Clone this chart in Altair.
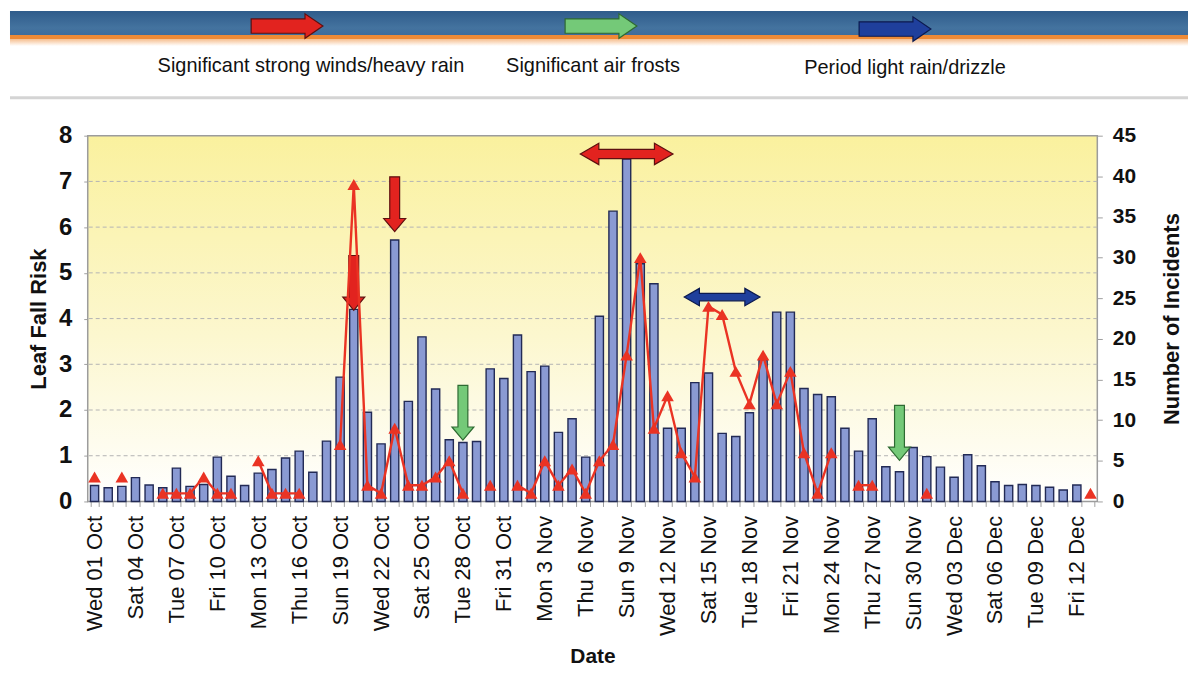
import altair as alt
import pandas as pd

# ---------------- data ----------------
leaf_risk = [0.35, 0.30, 0.33, 0.52, 0.36, 0.30, 0.73, 0.33, 0.37, 0.97,
             0.55, 0.35, 0.62, 0.70, 0.95, 1.10, 0.64, 1.32, 2.72, 4.20,
             1.95, 1.26, 5.72, 2.19, 3.60, 2.46, 1.35, 1.29, 1.31, 2.90,
             2.69, 3.64, 2.84, 2.96, 1.51, 1.81, 0.97, 4.05, 6.35, 7.49,
             5.20, 4.76, 1.60, 1.60, 2.60, 2.81, 1.49, 1.42, 1.94, 3.10,
             4.14, 4.14, 2.47, 2.34, 2.29, 1.60, 1.10, 1.81, 0.76, 0.65,
             1.18, 0.98, 0.75, 0.53, 1.02, 0.78, 0.43, 0.35, 0.37, 0.35,
             0.31, 0.25, 0.36, None]

incidents = [3, None, 3, None, None, 1, 1, 1, 3, 1,
             1, None, 5, 1, 1, 1, None, None, 7, 39,
             2, 1, 9, 2, 2, 3, 5, 1, None, 2,
             None, 2, 1, 5, 2, 4, 1, 5, 7, 18,
             30, 9, 13, 6, 3, 24, 23, 16, 12, 18,
             12, 16, 6, 1, 6, None, 2, 2, None, None,
             None, 1, None, None, None, None, None, None, None, None,
             None, None, None, 1]

tick_labels = ["Wed 01 Oct", "Sat 04 Oct", "Tue 07 Oct", "Fri 10 Oct", "Mon 13 Oct",
               "Thu 16 Oct", "Sun 19 Oct", "Wed 22 Oct", "Sat 25 Oct", "Tue 28 Oct",
               "Fri 31 Oct", "Mon 3 Nov", "Thu 6 Nov", "Sun 9 Nov", "Wed 12 Nov",
               "Sat 15 Nov", "Tue 18 Nov", "Fri 21 Nov", "Mon 24 Nov", "Thu 27 Nov",
               "Sun 30 Nov", "Wed 03 Dec", "Sat 06 Dec", "Tue 09 Dec", "Fri 12 Dec"]

legend_labels = ["Significant strong winds/heavy rain", "Significant air frosts",
                 "Period light rain/drizzle"]
legend_fill = ["#E2231F", "#74C978", "#1F3F9C"]
legend_stroke = ["#5E1010", "#2E6A32", "#0C1A4F"]

# annotation arrows (day index, leaf-risk level, legend kind)
down_days = [19, 22, 27, 59]
down_levels = [4.78, 6.5, 1.94, 1.5]
down_kind = [0, 0, 1, 1]
span_days = [39, 46]
span_levels = [7.6, 4.47]
span_kind = [0, 2]
span_len = [93, 76]

# header layout (pixel units relative to the plot origin)
header_x = [-78, 1104]
band_y = [-125, -101]
stripe_y = [-101, -97]
fade_y = [-97, -90]
sep_y = -38
legend_arrow_x = [200, 515, 810]
legend_arrow_y = [-110, -110, -107]
legend_text_x = [224, 507, 820]
legend_text_y = [-70, -70, -68]

W, H = 1013, 367
FONT = "Liberation Sans"
RED = "#EA3323"

n = len(leaf_risk)
days = list(range(n))
df = pd.DataFrame({"day": days, "leaf": leaf_risk, "incidents": incidents})
bars_df = df[df["leaf"].notna()]
inc_df = df[df["incidents"].notna()].copy()
inc_df["seg"] = (inc_df["day"].diff() != 1).cumsum()

x_scale = alt.Scale(domain=days, paddingInner=0.4, paddingOuter=0.2)
y_leaf = alt.Scale(domain=[0, 8], nice=False)
y_inc = alt.Scale(domain=[0, 45], nice=False)

ticks_js = "[" + ",".join("'" + t + "'" for t in tick_labels) + "]"
x_axis = alt.Axis(title="Date", labelExpr="datum.value % 3 == 0 ? " + ticks_js + "[datum.value / 3] : ''",
                  labelAngle=270, labelAlign="right", labelBaseline="middle",
                  labelFont=FONT, labelFontSize=22, labelColor="#111111", labelPadding=9,
                  labelOverlap=False, tickBand="extent", tickSize=5, tickColor="#A0A0A0",
                  domain=False, grid=False, titleFont=FONT, titleFontSize=21,
                  titleFontWeight="bold", titleColor="#111111", titlePadding=10)
leaf_axis = alt.Axis(orient="left", title="Leaf Fall Risk", values=list(range(9)), grid=False,
                     domain=False, tickSize=4, tickColor="#A0A0A0", labelFont=FONT,
                     labelFontSize=24, labelFontWeight="bold", labelColor="#111111",
                     labelPadding=12, titleFont=FONT, titleFontSize=22, titleFontWeight="bold",
                     titleColor="#111111", titlePadding=8)
inc_axis = alt.Axis(orient="right", title="Number of Incidents", values=list(range(0, 46, 5)),
                    grid=False, domain=False, tickSize=5, tickColor="#A0A0A0", labelFont=FONT,
                    labelFontSize=21, labelFontWeight="bold", labelColor="#111111",
                    labelPadding=10, titleFont=FONT, titleFontSize=22, titleFontWeight="bold",
                    titleColor="#111111", titleAngle=270, titleBaseline="top", titlePadding=26)

plot_grad = alt.LinearGradient(gradient="linear", x1=0, x2=0, y1=0, y2=1, stops=[
    alt.GradientStop(color="#FAF19E", offset=0),
    alt.GradientStop(color="#FCF7CF", offset=0.55),
    alt.GradientStop(color="#FFFFFF", offset=1)])

bg = alt.Chart(pd.DataFrame({"lo": [0], "hi": [8]})).mark_rect(
    fill=plot_grad, stroke="#9C9C9C", strokeWidth=1.5
).encode(y=alt.Y("lo:Q", scale=y_leaf, axis=leaf_axis), y2="hi:Q")

grid = alt.Chart(pd.DataFrame({"g": list(range(1, 8))})).mark_rule(
    color="#B4B4B4", strokeDash=[4, 3], strokeWidth=1
).encode(y=alt.Y("g:Q", scale=y_leaf, axis=leaf_axis))

bars = alt.Chart(bars_df).mark_bar(fill="#8A9AD3", stroke="#222A55", strokeWidth=1.4).encode(
    x=alt.X("day:O", scale=x_scale, axis=x_axis),
    y=alt.Y("leaf:Q", scale=y_leaf, axis=leaf_axis))

down_path = "M -0.18 -1 L 0.18 -1 L 0.18 0.52 L 0.4 0.52 L 0 1 L -0.4 0.52 L -0.18 0.52 Z"
span_path = ("M -1 0 L -0.6 -0.23 L -0.6 -0.1 L 0.6 -0.1 L 0.6 -0.23 L 1 0 "
             "L 0.6 0.23 L 0.6 0.1 L -0.6 0.1 L -0.6 0.23 Z")
right_path = "M -1 -0.2 L 0.5 -0.2 L 0.5 -0.34 L 1 0 L 0.5 0.34 L 0.5 0.2 L -1 0.2 Z"

down_df = pd.DataFrame({"day": down_days, "lvl": down_levels,
                        "fill": [legend_fill[k] for k in down_kind],
                        "stroke": [legend_stroke[k] for k in down_kind]})
down = alt.Chart(down_df).mark_point(shape=down_path, filled=True, size=3025, opacity=1,
                                     strokeWidth=1.2).encode(
    x=alt.X("day:O", scale=x_scale, axis=x_axis),
    y=alt.Y("lvl:Q", scale=y_leaf, axis=leaf_axis),
    fill=alt.Fill("fill:N", scale=None), stroke=alt.Stroke("stroke:N", scale=None))

span_df = pd.DataFrame({"day": span_days, "lvl": span_levels,
                        "fill": [legend_fill[k] for k in span_kind],
                        "stroke": [legend_stroke[k] for k in span_kind],
                        "size": [v * v for v in span_len]})
span = alt.Chart(span_df).mark_point(shape=span_path, filled=True, opacity=1,
                                     strokeWidth=1.2).encode(
    x=alt.X("day:O", scale=x_scale, axis=x_axis),
    y=alt.Y("lvl:Q", scale=y_leaf, axis=leaf_axis),
    size=alt.Size("size:Q", scale=None),
    fill=alt.Fill("fill:N", scale=None), stroke=alt.Stroke("stroke:N", scale=None))

leaf_layer = alt.layer(bg, grid, bars, down, span)

line = alt.Chart(inc_df).mark_line(color=RED, strokeWidth=2.4).encode(
    x=alt.X("day:O", scale=x_scale, axis=x_axis),
    y=alt.Y("incidents:Q", scale=y_inc, axis=inc_axis),
    detail="seg:N")
pts = alt.Chart(inc_df).mark_point(shape="triangle-up", filled=True, size=160, color=RED,
                                   opacity=1).encode(
    x=alt.X("day:O", scale=x_scale, axis=x_axis),
    y=alt.Y("incidents:Q", scale=y_inc, axis=inc_axis))
inc_layer = alt.layer(line, pts)

data_layer = alt.layer(leaf_layer, inc_layer).resolve_scale(y="independent")

# ---------------- header band with legend ----------------
hx = alt.Scale(domain=[0, W], nice=False, zero=False)
hy = alt.Scale(domain=[0, H], nice=False, zero=False, reverse=True)


def hrect(yr, fill):
    d = pd.DataFrame({"x0": [header_x[0]], "x1": [header_x[1]], "y0": [yr[0]], "y1": [yr[1]]})
    return alt.Chart(d).mark_rect(fill=fill).encode(
        x=alt.X("x0:Q", scale=hx, axis=None), x2="x1:Q",
        y=alt.Y("y0:Q", scale=hy, axis=None), y2="y1:Q")


band_grad = alt.LinearGradient(gradient="linear", x1=0, x2=0, y1=0, y2=1, stops=[
    alt.GradientStop(color="#2F5C8B", offset=0),
    alt.GradientStop(color="#44739F", offset=0.7),
    alt.GradientStop(color="#3E6C9B", offset=1)])
fade_grad = alt.LinearGradient(gradient="linear", x1=0, x2=0, y1=0, y2=1, stops=[
    alt.GradientStop(color="#F6BE8E", offset=0),
    alt.GradientStop(color="#FFFFFF", offset=1)])

band = hrect(band_y, band_grad)
stripe = hrect(stripe_y, "#EE8A36")
fade = hrect(fade_y, fade_grad)

sep = alt.Chart(pd.DataFrame({"x0": [header_x[0]], "x1": [header_x[1]], "y": [sep_y]})).mark_rule(
    color="#D4D4D4", strokeWidth=3).encode(
    x=alt.X("x0:Q", scale=hx, axis=None), x2="x1:Q", y=alt.Y("y:Q", scale=hy, axis=None))

leg_df = pd.DataFrame({"ax": legend_arrow_x, "ay": legend_arrow_y, "tx": legend_text_x,
                       "ty": legend_text_y, "label": legend_labels,
                       "fill": legend_fill, "stroke": legend_stroke})
leg_arrows = alt.Chart(leg_df).mark_point(shape=right_path, filled=True, size=72 * 72,
                                          opacity=1, strokeWidth=1.2).encode(
    x=alt.X("ax:Q", scale=hx, axis=None), y=alt.Y("ay:Q", scale=hy, axis=None),
    fill=alt.Fill("fill:N", scale=None), stroke=alt.Stroke("stroke:N", scale=None))
leg_text = alt.Chart(leg_df).mark_text(font=FONT, fontSize=20, color="#111111",
                                       align="center", baseline="middle").encode(
    x=alt.X("tx:Q", scale=hx, axis=None), y=alt.Y("ty:Q", scale=hy, axis=None),
    text="label:N")

header = alt.layer(band, stripe, fade, sep, leg_arrows, leg_text)

chart = alt.layer(data_layer, header).resolve_scale(x="independent", y="independent").properties(
    width=W, height=H, background="white",
    padding={"left": 0, "top": 2, "right": 0, "bottom": 2}
).configure_view(stroke="transparent")

chart.save("out.html", embed_options={"renderer": "svg", "actions": False})
